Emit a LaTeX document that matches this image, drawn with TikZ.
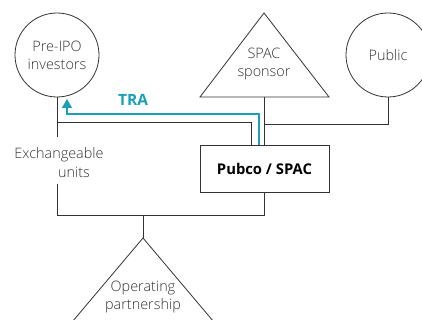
\documentclass[tikz,border=0pt]{standalone}
\usepackage{fontspec}
\IfFontExistsTF{Open Sans Light}{\setmainfont{Open Sans Light}[BoldFont={Open Sans Bold}]}{\setmainfont{Open Sans}}
\usetikzlibrary{arrows.meta}
\definecolor{ln}{HTML}{333333}
\definecolor{tra}{HTML}{1A9FB7}
\begin{document}
\begin{tikzpicture}[x=1pt,y=-1pt,
  txt/.style={font=\fontsize{14.4}{18}\selectfont, text=ln, align=center, inner sep=0},
  holder/.style={circle, draw=ln, line width=0.8pt, minimum size=84pt, inner sep=0, txt},
  link/.style={draw=ln, line width=0.8pt},
  tri/.style={draw=ln, line width=0.8pt, line join=miter},
  trl/.style={draw=tra, line width=1.4pt},
  boxn/.style={draw=ln, line width=0.9pt, minimum width=129pt, minimum height=47pt, inner sep=0,
     font=\fontsize{14.8}{18}\selectfont\bfseries, text=black}]
\useasboundingbox (0,0) rectangle (422,320);
% circles
\node[holder] (pre) at (57,55) {Pre-IPO\\investors};
\node[holder] (pub) at (388,55) {Public};
% SPAC sponsor triangle
\coordinate (spA) at (264,13);
\coordinate (spL) at (200,97);
\coordinate (spR) at (329,97);
\coordinate (spB) at (264,97);
\draw[tri] (spA) -- (spL) -- (spR) -- cycle;
\node[txt] (spt) at (264,64) {SPAC\\sponsor};
% Pubco box
\node[boxn] (box) at (264.5,168.5) {Pubco / SPAC};
% Operating partnership triangle
\coordinate (opA) at (143,238);
\draw[tri] (opA) -- (40,360) -- (246,360) -- cycle;
\node[txt] (opt) at (143,297) {Operating\\partnership};
% exchangeable units label
\node[txt] (ex1) at (59,155) {Exchangeable};
\node[txt] (ex2) at (74,172) {units};
% coordinates
\coordinate (e1) at (57,137);
\coordinate (e2) at (57,184);
\coordinate (j) at (57,215);
\coordinate (jo) at (143,215);
\coordinate (k1) at (251,122);
\coordinate (c1) at (259,114);
\coordinate (c2) at (67,114);
\coordinate (c3) at (67,99);
% connectors
\draw[link] (pre.south) -- (e1);
\draw[link] (e2) -- (j) -- (j -| box.south) -- (box.south);
\draw[link] (jo) -- (opA);
\draw[link] (pre.south |- k1) -- (k1) -- (k1 |- box.north);
\draw[link] (spB) -- (spB |- box.north);
\draw[link] (spB |- 0,124) -| (pub.south);
\draw[trl, -{Triangle[width=10pt,length=9pt]}] (c1 |- box.north) -- (c1) -- (c2) -- (c3);
\node[font=\fontsize{15.5}{16}\selectfont\bfseries, text=tra, inner sep=0] (tral) at (133,100) {TRA};
\end{tikzpicture}
\end{document}
